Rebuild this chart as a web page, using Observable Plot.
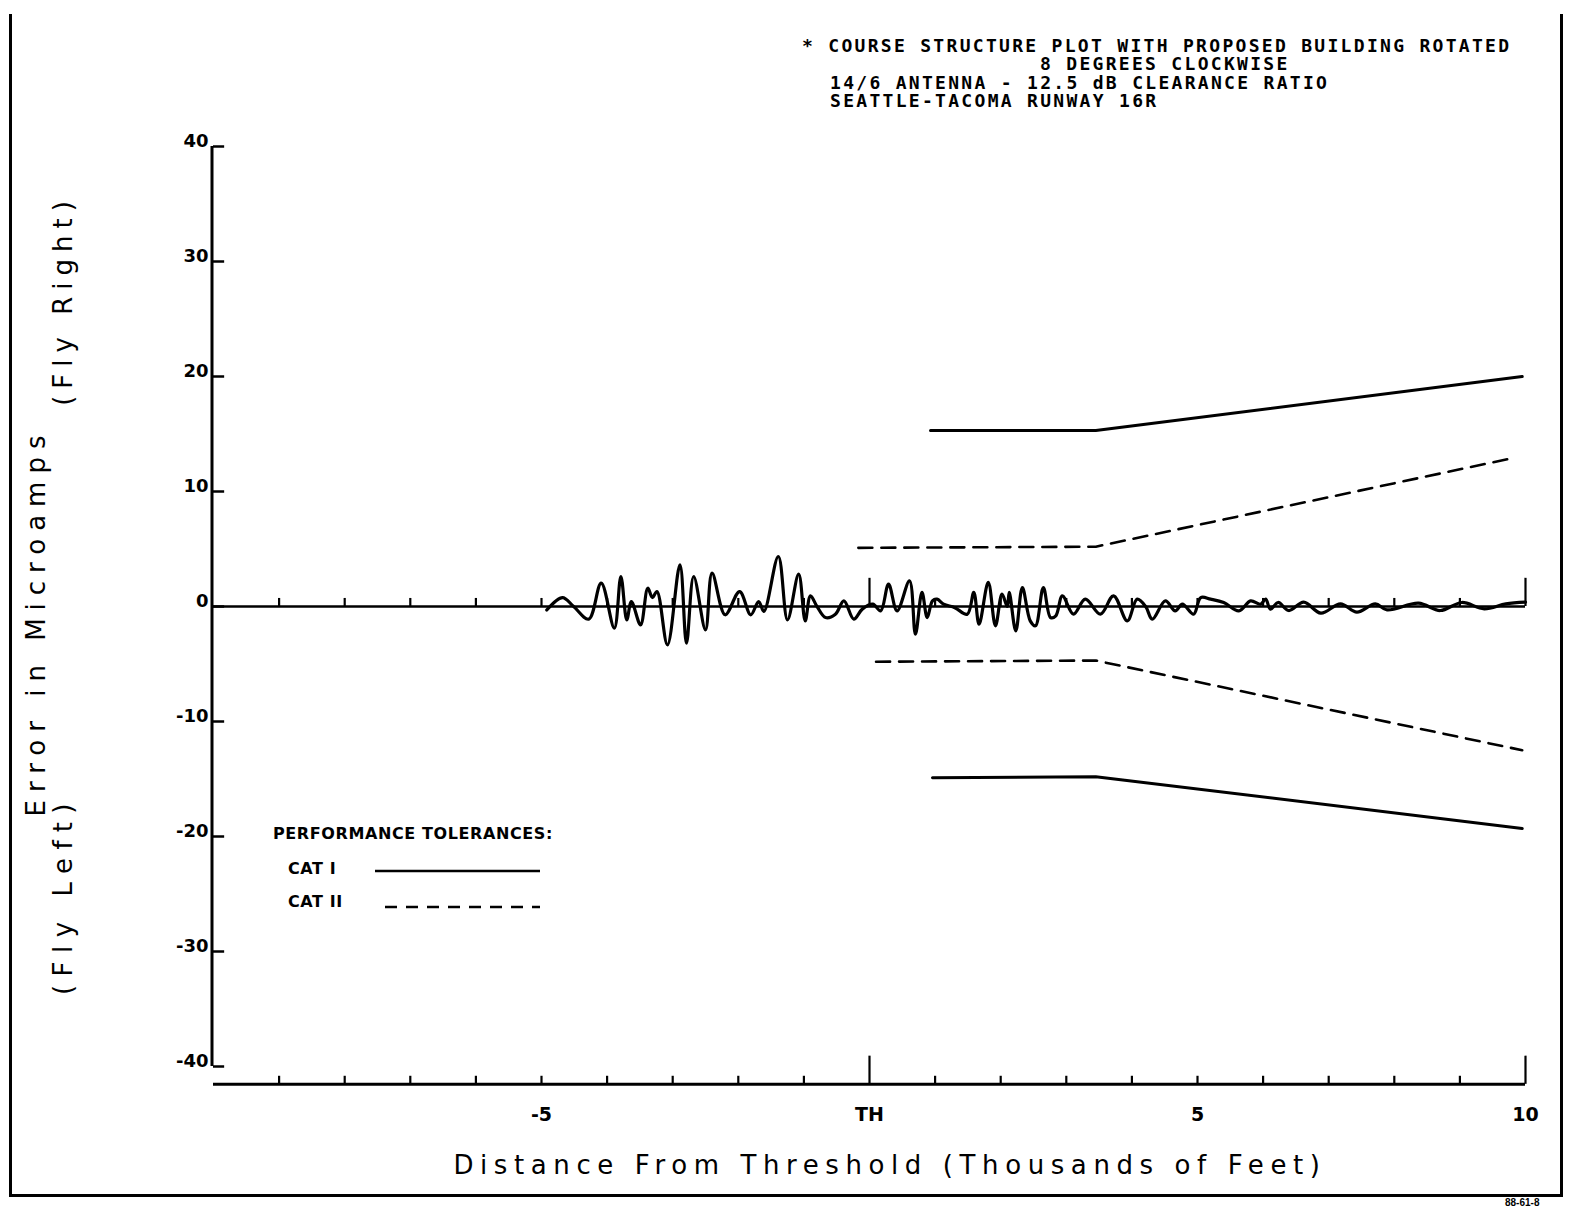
<!DOCTYPE html>
<html>
<head>
<meta charset="utf-8">
<script src="https://cdn.jsdelivr.net/npm/d3@7"></script>
<script src="https://cdn.jsdelivr.net/npm/@observablehq/plot@0.6"></script>
<style>
  html, body { margin: 0; padding: 0; background: #fff; }
  #wrap { position: relative; width: 1574px; height: 1209px; overflow: hidden; background: #fff; }
  #wrap svg.plot { position: absolute; left: 0; top: 0; }
  .frame { position: absolute; left: 9px; top: 14px; width: 1548px; height: 1180px;
           border-left: 3px solid #000; border-right: 3px solid #000; border-bottom: 3px solid #000; }
  .title { position: absolute; font-family: "DejaVu Sans Mono", "Liberation Mono", monospace; font-weight: bold;
           font-size: 18px; letter-spacing: 2.3px; white-space: pre; color: #000; line-height: 1; }
  .axt { position: absolute; font-family: "DejaVu Sans", sans-serif; font-size: 26px; color: #000;
         white-space: pre; letter-spacing: 6.6px; line-height: 1; }
  .rot { transform-origin: center center; transform: translate(-50%, -50%) rotate(-90deg); }
  .corner { position: absolute; font-family: "Liberation Sans", Arial, sans-serif; font-weight: bold; font-size: 10px;
            white-space: pre; line-height: 1; }
</style>
</head>
<body>
<div id="wrap"></div>
<script>
// ---------------- data ----------------
const titleLines = [
  "* COURSE STRUCTURE PLOT WITH PROPOSED BUILDING ROTATED",
  "8 DEGREES CLOCKWISE",
  "14/6 ANTENNA - 12.5 dB CLEARANCE RATIO",
  "SEATTLE-TACOMA RUNWAY 16R"
];
const xLabel = "Distance From Threshold (Thousands of Feet)";
const yLabel = "Error in Microamps";
const yLabelTop = "(Fly Right)";
const yLabelBottom = "(Fly Left)";
const legendTitle = "PERFORMANCE TOLERANCES:";
const legendNames = ["CAT I", "CAT II"];
const plotId = "88-61-8";

const yTicks = [-40, -30, -20, -10, 0, 10, 20, 30, 40];
const xTicks = [-9, -8, -7, -6, -5, -4, -3, -2, -1, 0, 1, 2, 3, 4, 5, 6, 7, 8, 9, 10];
const xMajorTicks = [0, 10];
const xTickLabelValues = [-5, 0, 5, 10];
const xTickLabelTexts = ["-5", "TH", "5", "10"];

// course structure trace (thousands of feet, microamps)
const signalDistance = [
  -4.92, -4.68, -4.51, -4.28, -4.09, -3.89, -3.79, -3.70, -3.63, -3.49,
  -3.38, -3.31, -3.24, -3.08, -2.89, -2.79, -2.68, -2.50, -2.40, -2.20,
  -1.98, -1.81, -1.69, -1.61, -1.39, -1.25, -1.08, -0.98, -0.90, -0.80,
  -0.67, -0.52, -0.39, -0.24, -0.11, 0.05, 0.17, 0.29, 0.42, 0.61,
  0.70, 0.80, 0.88, 0.96, 1.03, 1.13, 1.30, 1.49, 1.59, 1.67,
  1.81, 1.92, 2.02, 2.10, 2.13, 2.23, 2.33, 2.45, 2.53, 2.65,
  2.76, 2.84, 2.94, 3.11, 3.29, 3.52, 3.72, 3.93, 4.08, 4.21,
  4.31, 4.51, 4.66, 4.77, 4.94, 5.05, 5.20, 5.40, 5.63, 5.81,
  5.96, 6.04, 6.11, 6.23, 6.39, 6.62, 6.88, 7.18, 7.43, 7.71,
  7.89, 8.37, 8.70, 9.03, 9.37, 9.70, 10.00
];
const signalError = [
  -0.30, 0.78, 0.00, -1.10, 2.03, -1.88, 2.61, -1.16, 0.43, -1.59,
  1.59, 0.78, 1.30, -3.33, 3.62, -3.19, 2.61, -2.03, 2.90, -0.72,
  1.30, -0.72, 0.43, -0.43, 4.35, -1.16, 2.81, -1.25, 0.93, 0.00,
  -0.96, -0.67, 0.49, -1.10, -0.23, 0.20, -0.38, 1.94, -0.38, 2.23,
  -2.41, 1.22, -0.96, 0.49, 0.64, 0.20, -0.10, -0.67, 1.22, -1.54,
  2.09, -1.68, 1.07, 0.00, 1.22, -2.12, 1.65, -1.25, -1.68, 1.65,
  -0.96, -0.81, 0.93, -0.67, 0.64, -0.67, 0.93, -1.25, 0.64, 0.00,
  -1.10, 0.49, -0.38, 0.20, -0.67, 0.78, 0.64, 0.35, -0.38, 0.49,
  0.20, 0.64, -0.23, 0.35, -0.35, 0.38, -0.58, 0.23, -0.49, 0.23,
  -0.29, 0.29, -0.35, 0.35, -0.20, 0.23, 0.38
];

// performance tolerance envelopes
const cat1UpperX = [0.93, 3.45, 9.95];
const cat1UpperY = [15.3, 15.3, 20.0];
const cat1LowerX = [0.96, 3.45, 9.95];
const cat1LowerY = [-14.9, -14.8, -19.3];
const cat2UpperX = [-0.17, 3.45, 9.80];
const cat2UpperY = [5.1, 5.2, 12.9];
const cat2LowerX = [0.10, 3.45, 9.95];
const cat2LowerY = [-4.8, -4.7, -12.5];

// ---------------- build tables ----------------
const signal = signalDistance.map((x, i) => ({x, y: signalError[i]}));
const toPts = (xs, ys, series, cat) => xs.map((x, i) => ({x, y: ys[i], series, cat}));
const tolerances = [
  ...toPts(cat1UpperX, cat1UpperY, "cat1u", "CAT I"),
  ...toPts(cat1LowerX, cat1LowerY, "cat1l", "CAT I"),
  ...toPts(cat2UpperX, cat2UpperY, "cat2u", "CAT II"),
  ...toPts(cat2LowerX, cat2LowerY, "cat2l", "CAT II")
];
const xLabels = xTickLabelValues.map((x, i) => ({x, text: xTickLabelTexts[i]}));

const xAxisY = -41.55;       // baseline of the detached distance axis (below the error range)
const minorTick = 0.7;       // tick length in error units
const majorTick = 2.45;
const yTickLen = 0.17;       // in thousands of feet

const plot = Plot.plot({
  width: 1574,
  height: 1209,
  marginLeft: 213,
  marginRight: 49,
  marginTop: 146,
  marginBottom: 143,
  x: {domain: [-10, 10], axis: null},
  y: {domain: [-40, 40], axis: null},
  style: {background: "transparent", overflow: "visible"},
  marks: [
    // y axis
    Plot.ruleX([-10], {y1: -40, y2: 40, stroke: "#000", strokeWidth: 3, dx: -1.5}),
    Plot.ruleY(yTicks, {y: d => d, x1: -10, x2: -10 + yTickLen, stroke: "#000", strokeWidth: 2.5}),
    Plot.text(yTicks, {x: -10, y: d => d, text: d => String(d), textAnchor: "end", dx: -5, dy: -5,
      fontSize: 18, fontWeight: "bold", fontFamily: "DejaVu Sans, sans-serif", fill: "#000"}),
    // zero line with its distance ticks
    Plot.ruleY([0], {x1: -10, x2: 10, stroke: "#000", strokeWidth: 2.5}),
    Plot.ruleX(xTicks, {x: d => d, y1: 0, y2: d => xMajorTicks.includes(d) ? majorTick : minorTick,
      stroke: "#000", strokeWidth: 2.2}),
    // detached x axis
    Plot.ruleY([xAxisY], {x1: -10, x2: 10, stroke: "#000", strokeWidth: 3}),
    Plot.ruleX(xTicks, {x: d => d, y1: xAxisY, y2: d => xAxisY + (xMajorTicks.includes(d) ? majorTick : minorTick),
      stroke: "#000", strokeWidth: 2.2}),
    Plot.text(xLabels, {x: "x", y: xAxisY, text: "text", dy: 31, lineAnchor: "middle",
      fontSize: 19, fontWeight: "bold", fontFamily: "DejaVu Sans, sans-serif", fill: "#000"}),
    // tolerance envelopes
    Plot.line(tolerances.filter(d => d.cat === "CAT I"), {x: "x", y: "y", z: "series",
      stroke: "#000", strokeWidth: 3}),
    Plot.line(tolerances.filter(d => d.cat === "CAT II"), {x: "x", y: "y", z: "series",
      stroke: "#000", strokeWidth: 2.6, strokeDasharray: "14,9"}),
    // course structure trace
    Plot.line(signal, {x: "x", y: "y", stroke: "#000", strokeWidth: 3.2, curve: "catmull-rom"})
  ]
});
plot.classList.add("plot");

const wrap = document.getElementById("wrap");
wrap.appendChild(plot);

function addDiv(cls, text, styles) {
  const d = document.createElement("div");
  d.className = cls;
  d.textContent = text;
  Object.assign(d.style, styles);
  wrap.appendChild(d);
  return d;
}

// page frame
const fr = document.createElement("div");
fr.className = "frame";
wrap.appendChild(fr);

// title block
addDiv("title", titleLines[0], {left: "802px", top: "37px"});
addDiv("title", titleLines[1], {left: "1040px", top: "55px"});
addDiv("title", titleLines[2], {left: "830px", top: "74px"});
addDiv("title", titleLines[3], {left: "830px", top: "92px"});

// axis titles
addDiv("axt", xLabel, {left: "890px", top: "1165px", transform: "translate(-50%, -50%)"});
addDiv("axt rot", yLabel, {left: "36px", top: "622px", letterSpacing: "8px"});
addDiv("axt rot", yLabelTop, {left: "63px", top: "300px", letterSpacing: "7px"});
addDiv("axt rot", yLabelBottom, {left: "63px", top: "895px", letterSpacing: "8.5px"});

// legend
const ns = "http://www.w3.org/2000/svg";
const leg = document.createElementNS(ns, "svg");
leg.setAttribute("width", "300");
leg.setAttribute("height", "110");
Object.assign(leg.style, {position: "absolute", left: "260px", top: "815px"});
const legFont = "font-family:'DejaVu Sans',sans-serif;font-weight:bold;font-size:16px;letter-spacing:0.6px";
function legText(x, y, t) {
  const e = document.createElementNS(ns, "text");
  e.setAttribute("x", x); e.setAttribute("y", y);
  e.setAttribute("style", legFont);
  e.textContent = t;
  leg.appendChild(e);
}
function legLine(x1, x2, y, dash) {
  const e = document.createElementNS(ns, "line");
  e.setAttribute("x1", x1); e.setAttribute("x2", x2);
  e.setAttribute("y1", y); e.setAttribute("y2", y);
  e.setAttribute("stroke", "#000"); e.setAttribute("stroke-width", "2.6");
  if (dash) e.setAttribute("stroke-dasharray", dash);
  leg.appendChild(e);
}
legText(13, 24, legendTitle);
legText(28, 59, legendNames[0]);
legLine(115, 280, 56, null);
legText(28, 92, legendNames[1]);
legLine(125, 280, 92, "12,9");
wrap.appendChild(leg);

// plot id in lower right corner (cut off in the source)
addDiv("corner", plotId, {left: "1505px", top: "1198px"});
</script>
</body>
</html>
